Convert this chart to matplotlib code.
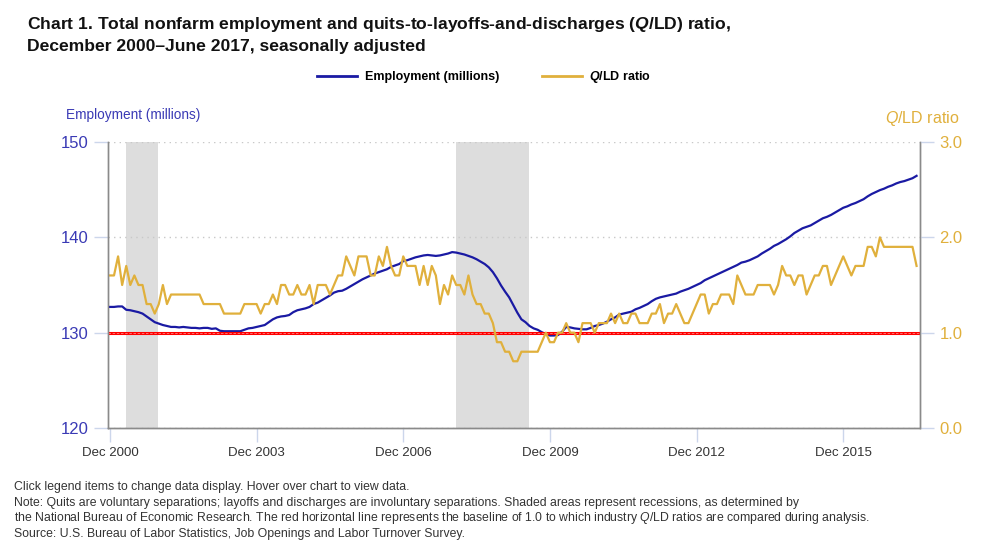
import matplotlib

matplotlib.use("Agg")
import matplotlib.pyplot as plt
import numpy as np
import pandas as pd
from matplotlib.lines import Line2D

plt.rcParams["font.family"] = ["Liberation Sans", "DejaVu Sans"]
plt.rcParams["mathtext.fontset"] = "custom"
plt.rcParams["mathtext.rm"] = "Liberation Sans"
plt.rcParams["mathtext.it"] = "Liberation Sans:italic"
plt.rcParams["mathtext.bf"] = "Liberation Sans:bold"
plt.rcParams["mathtext.bfit"] = "Liberation Sans:bold:italic"

# monthly, Dec 2000 - Jun 2017
months = pd.date_range("2000-12-01", "2017-06-01", freq="MS")

employment = [
    132.7, 132.7, 132.75, 132.75, 132.4, 132.35, 132.25, 132.15, 132.0, 131.7, 131.4, 131.1,
    130.95, 130.8, 130.7, 130.6, 130.6, 130.55, 130.6, 130.55, 130.5, 130.5, 130.45, 130.5,
    130.5, 130.4, 130.45, 130.2, 130.15, 130.15, 130.15, 130.15, 130.15, 130.3, 130.45, 130.5,
    130.6, 130.7, 130.8, 131.1, 131.4, 131.6, 131.7, 131.75, 131.85, 132.15, 132.35, 132.45,
    132.55, 132.7, 133.0, 133.15, 133.4, 133.65, 133.9, 134.2, 134.35, 134.4, 134.6, 134.85,
    135.1, 135.35, 135.6, 135.8, 136.0, 136.2, 136.35, 136.5, 136.65, 136.9, 137.05, 137.2,
    137.5, 137.6, 137.75, 137.9, 138.0, 138.1, 138.15, 138.1, 138.05, 138.1, 138.2, 138.3,
    138.45, 138.4, 138.3, 138.2, 138.05, 137.9, 137.7, 137.45, 137.2, 136.85, 136.35, 135.7,
    134.95, 134.3, 133.7, 132.9, 132.1, 131.4, 131.1, 130.7, 130.45, 130.3, 130.05, 129.85,
    129.7, 129.7, 129.75, 130.1, 130.6, 130.55, 130.45, 130.4, 130.35, 130.35, 130.5, 130.7,
    130.8, 130.95, 131.15, 131.4, 131.6, 131.9, 132.0, 132.1, 132.2, 132.45, 132.6, 132.8,
    133.0, 133.3, 133.55, 133.7, 133.8, 133.9, 134.0, 134.1, 134.3, 134.45, 134.6, 134.8,
    135.0, 135.2, 135.5, 135.7, 135.9, 136.1, 136.3, 136.5, 136.7, 136.9, 137.1, 137.35,
    137.45, 137.6, 137.8, 138.0, 138.3, 138.55, 138.8, 139.1, 139.3, 139.55, 139.8, 140.1,
    140.45, 140.7, 140.95, 141.1, 141.25, 141.5, 141.75, 142.0, 142.15, 142.35, 142.6, 142.85,
    143.1, 143.25, 143.45, 143.6, 143.8, 144.0, 144.3, 144.55, 144.75, 144.95, 145.1, 145.3,
    145.45, 145.65, 145.8, 145.9, 146.05, 146.2, 146.45,
]

qld_ratio = [
    1.6, 1.6, 1.8, 1.5, 1.7, 1.5, 1.6, 1.5, 1.5, 1.3, 1.3, 1.2,
    1.3, 1.5, 1.3, 1.4, 1.4, 1.4, 1.4, 1.4, 1.4, 1.4, 1.4, 1.3,
    1.3, 1.3, 1.3, 1.3, 1.2, 1.2, 1.2, 1.2, 1.2, 1.3, 1.3, 1.3,
    1.3, 1.2, 1.3, 1.3, 1.4, 1.3, 1.5, 1.5, 1.4, 1.4, 1.5, 1.4,
    1.4, 1.5, 1.3, 1.5, 1.5, 1.5, 1.4, 1.5, 1.6, 1.6, 1.8, 1.7,
    1.6, 1.8, 1.8, 1.8, 1.6, 1.6, 1.8, 1.7, 1.9, 1.7, 1.6, 1.6,
    1.8, 1.7, 1.7, 1.7, 1.5, 1.7, 1.5, 1.7, 1.6, 1.3, 1.5, 1.4,
    1.6, 1.5, 1.5, 1.4, 1.6, 1.4, 1.3, 1.3, 1.2, 1.2, 1.1, 0.9,
    0.9, 0.8, 0.8, 0.7, 0.7, 0.8, 0.8, 0.8, 0.8, 0.8, 0.9, 1.0,
    0.9, 0.9, 1.0, 1.0, 1.1, 1.0, 1.0, 0.9, 1.1, 1.1, 1.1, 1.0,
    1.1, 1.1, 1.1, 1.2, 1.1, 1.2, 1.1, 1.1, 1.2, 1.2, 1.1, 1.1,
    1.1, 1.2, 1.2, 1.3, 1.1, 1.2, 1.2, 1.3, 1.2, 1.1, 1.1, 1.2,
    1.3, 1.4, 1.4, 1.2, 1.3, 1.3, 1.4, 1.4, 1.4, 1.3, 1.6, 1.5,
    1.4, 1.4, 1.4, 1.5, 1.5, 1.5, 1.5, 1.4, 1.5, 1.7, 1.6, 1.6,
    1.5, 1.6, 1.6, 1.4, 1.5, 1.6, 1.6, 1.7, 1.7, 1.5, 1.6, 1.7,
    1.8, 1.7, 1.6, 1.7, 1.7, 1.7, 1.9, 1.9, 1.8, 2.0, 1.9, 1.9,
    1.9, 1.9, 1.9, 1.9, 1.9, 1.9, 1.7,
]

baseline = 1.0
recession_start = ["2001-03", "2007-12"]
recession_end = ["2001-11", "2009-06"]

emp_ticks = [120, 130, 140, 150]
ratio_ticks = [0.0, 1.0, 2.0, 3.0]

BLUE = "#1a1aa3"
GOLD = "#e0b03c"
AXIS_BLUE = "#3a3ab5"
TICK_COLOR = "#ccd6eb"

x = np.arange(len(months))

fig = plt.figure(figsize=(9.88, 5.43), dpi=100)
ax = fig.add_axes([0.109, 0.2118, 0.822, 0.5267])
ax2 = ax.twinx()

# recession shading (shaded to the end of each month)
for s, e in zip(recession_start, recession_end):
    i0 = months.get_loc(pd.Timestamp(s))
    i1 = months.get_loc(pd.Timestamp(e))
    ax.axvspan(i0 + 0.9, i1 + 0.85, color="#dddddd", lw=0, zorder=0)

ax.plot(x, employment, color=BLUE, lw=1.6, zorder=3)
ax2.axhline(baseline, color="#ff0000", lw=2.2, zorder=1)
ax2.axhline(baseline, color="#ff8080", lw=0.6, ls=(0, (3, 2)), zorder=1)
ax2.plot(x, qld_ratio, color=GOLD, lw=1.6, zorder=2)

ax.set_xlim(-0.55, len(x) - 0.2)
ax.set_ylim(emp_ticks[0], emp_ticks[-1])
ax2.set_ylim(ratio_ticks[0], ratio_ticks[-1])

ax.set_yticks(emp_ticks)
ax.set_yticklabels([str(t) for t in emp_ticks])
ax2.set_yticks(ratio_ticks)
ax2.set_yticklabels([f"{t:.1f}" for t in ratio_ticks])

tick_pos = x[::36]
ax.set_xticks(tick_pos)
ax.set_xticklabels([months[i].strftime("%b %Y") for i in tick_pos])

ax.grid(axis="y", color="#c8c8c8", lw=1, ls=(0, (1, 3)))
ax.set_axisbelow(True)

for a in (ax, ax2):
    a.spines["top"].set_visible(False)
    for side in ("left", "right", "bottom"):
        a.spines[side].set_color("#8a8a8a")
        a.spines[side].set_linewidth(1)

ax.tick_params(axis="y", length=10, width=1, color=TICK_COLOR, labelcolor=AXIS_BLUE,
               labelsize=12, pad=4)
ax2.tick_params(axis="y", length=10, width=1, color=TICK_COLOR, labelcolor=GOLD,
                labelsize=12, pad=4)
ax.tick_params(axis="x", length=10, width=1, color=TICK_COLOR, labelcolor="#333333",
               labelsize=9.5, pad=4)

# titles
fig.text(27 / 988, 1 - 25 / 543,
         r"Chart 1. Total nonfarm employment and quits-to-layoffs-and-discharges ($\mathbfit{Q}$/LD) ratio,",
         fontsize=12.6, fontweight="bold", color="#111111", va="center")
fig.text(27 / 988, 1 - 47 / 543, "December 2000\u2013June 2017, seasonally adjusted",
         fontsize=12.6, fontweight="bold", color="#111111", va="center")

handles = [Line2D([], [], color=BLUE, lw=2), Line2D([], [], color=GOLD, lw=2)]
fig.legend(handles, ["Employment (millions)", r"$\mathbfit{Q}$/LD ratio"],
           loc="center", bbox_to_anchor=(0.49, 1 - 77 / 543), ncol=2, frameon=False,
           prop={"size": 9, "weight": "bold"}, handlelength=3.2, columnspacing=3.4,
           handletextpad=0.6)

fig.text(66 / 988, 1 - 115 / 543, "Employment (millions)", color=AXIS_BLUE,
         fontsize=9.8, va="center")
fig.text(959 / 988, 1 - 118 / 543, r"$\mathit{Q}$/LD ratio", color=GOLD,
         fontsize=11.5, va="center", ha="right")

notes = [
    "Click legend items to change data display. Hover over chart to view data.",
    "Note: Quits are voluntary separations; layoffs and discharges are involuntary separations. "
    "Shaded areas represent recessions, as determined by",
    "the National Bureau of Economic Research. The red horizontal line represents the baseline "
    r"of 1.0 to which industry $\mathit{Q}$/LD ratios are compared during analysis.",
    "Source: U.S. Bureau of Labor Statistics, Job Openings and Labor Turnover Survey.",
]
for k, line in enumerate(notes):
    fig.text(14 / 988, 1 - (487 + 15.7 * k) / 543, line, fontsize=8.8, color="#333333",
             va="center")

fig.savefig("out.png", dpi=100)
